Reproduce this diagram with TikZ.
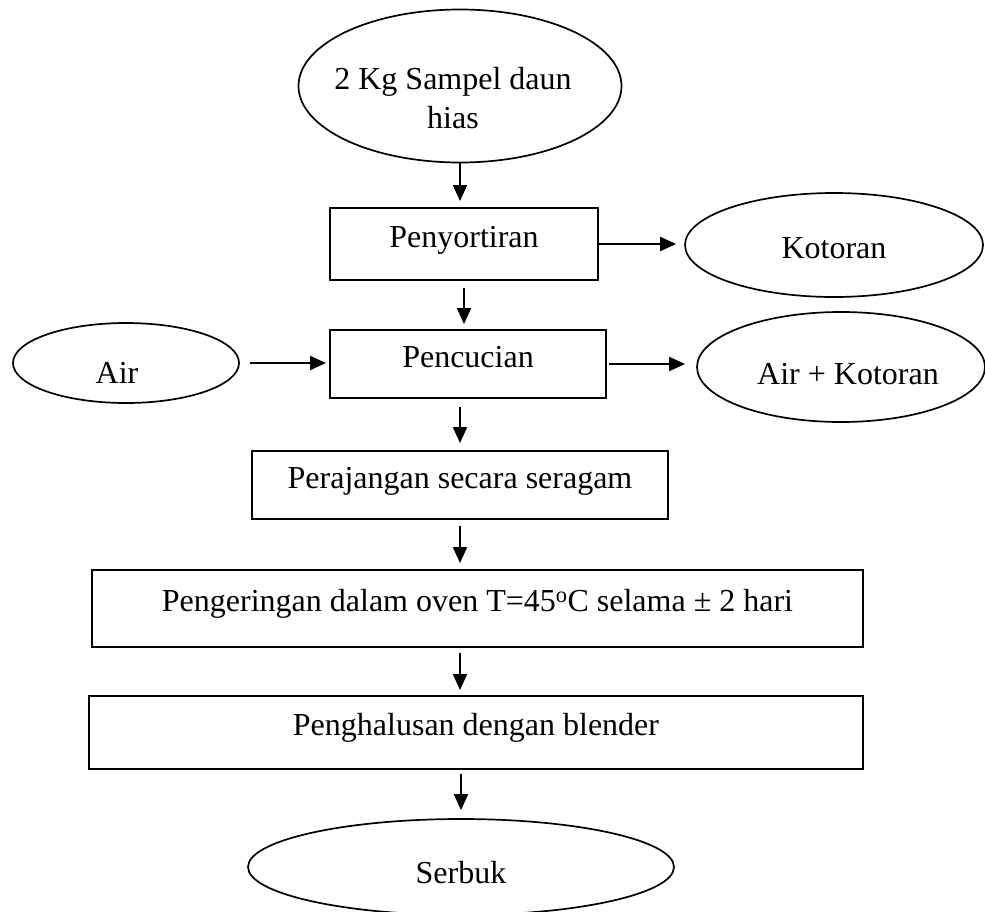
\documentclass[tikz,border=0pt]{standalone}
\usepackage{fontspec}
\setmainfont{Liberation Serif}
\usetikzlibrary{shapes.geometric,arrows.meta}
\begin{document}
\begin{tikzpicture}[x=1pt,y=-1pt,
  every node/.style={font=\fontsize{32}{37}\selectfont},
  procbox/.style={draw,line width=1.9pt,rectangle,inner sep=0pt,text height=21pt,text depth=15pt},
  oval/.style={draw,line width=1.7pt,ellipse,inner sep=0pt},
  arr/.style={line width=1.9pt,-{Triangle[length=16pt,width=14pt]}}]
\clip (0,0) rectangle (985,911);
\fill[white] (0,0) rectangle (985,911);
% ellipses
\node[oval,minimum width=323pt,minimum height=153pt,
  label={[anchor=base,xshift=-7pt,yshift=4pt]center:2 Kg Sampel daun},
  label={[anchor=base,xshift=-7pt,yshift=-32pt]center:hias}] (e1) at (460,86) {};
\node[oval,minimum width=298pt,minimum height=104pt,
  label={[anchor=base,yshift=-3pt]center:Kotoran}] (k) at (834,245) {};
\node[oval,minimum width=226pt,minimum height=80pt,
  label={[anchor=base,xshift=-9pt,yshift=-10pt]center:Air}] (air) at (126,363) {};
\node[oval,minimum width=288pt,minimum height=110pt,
  label={[anchor=base,xshift=7pt,yshift=-7pt]center:Air + Kotoran}] (ak) at (841,367) {};
\node[oval,minimum width=426pt,minimum height=96pt,
  label={[anchor=base,yshift=-6pt]center:Serbuk}] (s) at (461,867) {};
% boxes
\node[procbox,minimum width=268pt,minimum height=72pt] (b1) at (464,244) {Penyortiran};
\node[procbox,minimum width=276pt,minimum height=68pt] (b2) at (468,364) {Pencucian};
\node[procbox,minimum width=416pt,minimum height=68pt] (b3) at (460,485) {Perajangan secara seragam};
\node[procbox,minimum width=771pt,minimum height=77pt] (b4) at (477.5,608.5) {Pengeringan dalam oven T=45\textsuperscript{o}C selama ± 2 hari};
\node[procbox,minimum width=774pt,minimum height=73pt] (b5) at (476,732.5) {Penghalusan dengan blender};
% connectors
\draw[arr,shorten >=6pt] (e1.south) -- (e1.south |- b1.north);
\draw[arr,shorten <=7pt,shorten >=5pt] (b1.south) -- (b1.south |- b2.north);
\draw[arr,shorten >=8pt] (b1.east) -- (b1.east -| k.west);
\draw[arr,shorten <=10pt,shorten >=3pt] (air.east) -- (air.east -| b2.west);
\draw[arr,shorten <=2pt,shorten >=11pt] (b2.east) -- (b2.east -| ak.west);
\draw[arr,shorten <=8pt,shorten >=7pt] (b3.north |- b2.south) -- (b3.north);
\draw[arr,shorten <=6pt,shorten >=6pt] (b3.south) -- (b3.south |- b4.north);
\draw[arr,shorten <=5pt,shorten >=5pt] (b3.south |- b4.south) -- (b3.south |- b5.north);
\draw[arr,shorten <=4pt,shorten >=8pt] (s.north |- b5.south) -- (s.north);
\end{tikzpicture}
\end{document}
